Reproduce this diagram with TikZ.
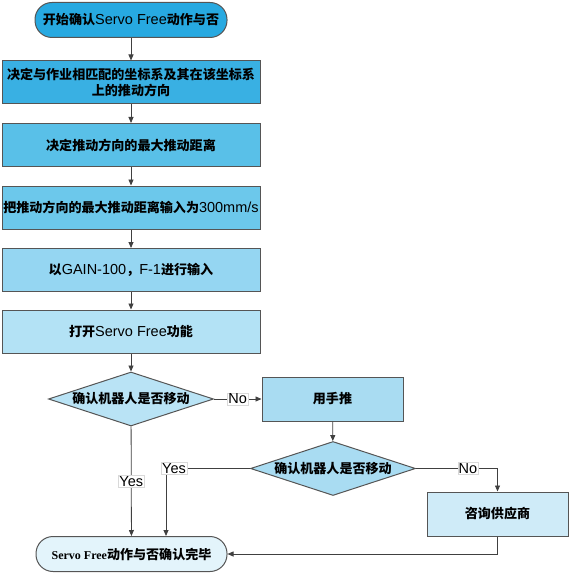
\documentclass[tikz,border=0pt]{standalone}
\usepackage{fontspec}
\setmainfont{Liberation Sans}
\newfontfamily\cjk[Scale=0.9]{Noto Sans CJK SC}
\newfontfamily\serifb{Liberation Serif}
\newcommand\zh[1]{{\cjk\bfseries #1}}
\usetikzlibrary{shapes.geometric,arrows.meta}
\definecolor{cS}{HTML}{27A9E1}
\definecolor{cA}{HTML}{39B0E3}
\definecolor{cB}{HTML}{59C0E8}
\definecolor{cC}{HTML}{6CC8EB}
\definecolor{cD}{HTML}{95D6F2}
\definecolor{cE}{HTML}{B3E2F5}
\definecolor{cF}{HTML}{B9E3F5}
\definecolor{cG}{HTML}{A9DCF2}
\definecolor{cH}{HTML}{CFEBF8}
\definecolor{cI}{HTML}{E3F4FB}
\definecolor{edge}{HTML}{555555}
\definecolor{wire}{HTML}{404040}
\begin{document}
\begin{tikzpicture}[x=1pt,y=-1pt,font=\fontsize{14.5}{17}\selectfont,
  box/.style={draw=edge,line width=1pt,minimum width=258pt,minimum height=43pt,inner sep=0pt,align=center},
  sbox/.style={draw=edge,line width=1pt,minimum width=141pt,minimum height=44pt,inner sep=0pt,align=center},
  term/.style={draw=edge,line width=1pt,rounded corners=17pt,minimum height=35pt,inner sep=0pt},
  dia/.style={diamond,draw=edge,line width=1pt,shape aspect=3.05,inner sep=0pt,minimum width=165pt,minimum height=54pt},
  arr/.style={draw=wire,line width=0.8pt,-{Triangle[length=6pt,width=5pt]}},
  lab/.style={fill=white,draw=black!15,line width=0.4pt,inner sep=1pt}]
\useasboundingbox (0,0) rectangle (571,575);
\node[term,fill=cS,minimum width=192pt] (s) at (131,20) {\zh{开始确认}Servo Free\zh{动作与否}};
\node[box,fill=cA] (b1) at (131,82.5) {\zh{决定与作业相匹配的坐标系及其在该坐标系}\\[-1pt]\zh{上的推动方向}};
\node[box,fill=cB] (b2) at (131,145) {\zh{决定推动方向的最大推动距离}};
\node[box,fill=cC] (b3) at (131,207.5) {\zh{把推动方向的最大推动距离输入为}300mm/s};
\node[box,fill=cD] (b4) at (131,270) {\zh{以}GAIN-100\zh{，}F-1\zh{进行输入}};
\node[box,fill=cE] (b5) at (131,331.5) {\zh{打开}Servo Free\zh{功能}};
\node[dia,fill=cF] (d1) at (131,399) {\zh{确认机器人是否移动}};
\node[sbox,fill=cG] (p) at (332.5,399) {\zh{用手推}};
\node[dia,fill=cG] (d2) at (333,468.5) {\zh{确认机器人是否移动}};
\node[sbox,fill=cH] (q) at (497.5,514) {\zh{咨询供应商}};
\node[term,fill=cI,minimum width=191pt] (e) at (131.5,554) {{\serifb\bfseries\fontsize{12}{14}\selectfont Servo Free}\zh{动作与否确认完毕}};
\coordinate (c1) at (166,468.5);
\coordinate (c2) at (497.5,468.5);
\coordinate (c3) at (497.5,554);
\draw[arr] (s) -- (b1);
\draw[arr] (b1) -- (b2);
\draw[arr] (b2) -- (b3);
\draw[arr] (b3) -- (b4);
\draw[arr] (b4) -- (b5);
\draw[arr] (b5) -- (d1);
\draw[arr] (d1) -- node[lab] (ly1) {Yes} (e);
\draw[arr] (d1) -- node[lab] (ln1) {No} (p);
\draw[arr] (p) -- (d2);
\draw[arr] (d2.west) -- (c1) -- (c1 |- e.north);
\node[lab] (ly2) at (174,468.5) {Yes};
\draw[arr] (d2.east) -- (c2) -- (q.north);
\node[lab] (ln2) at (468,468.5) {No};
\draw[arr] (q.south) -- (c3) -- (e.east);
\end{tikzpicture}
\end{document}
